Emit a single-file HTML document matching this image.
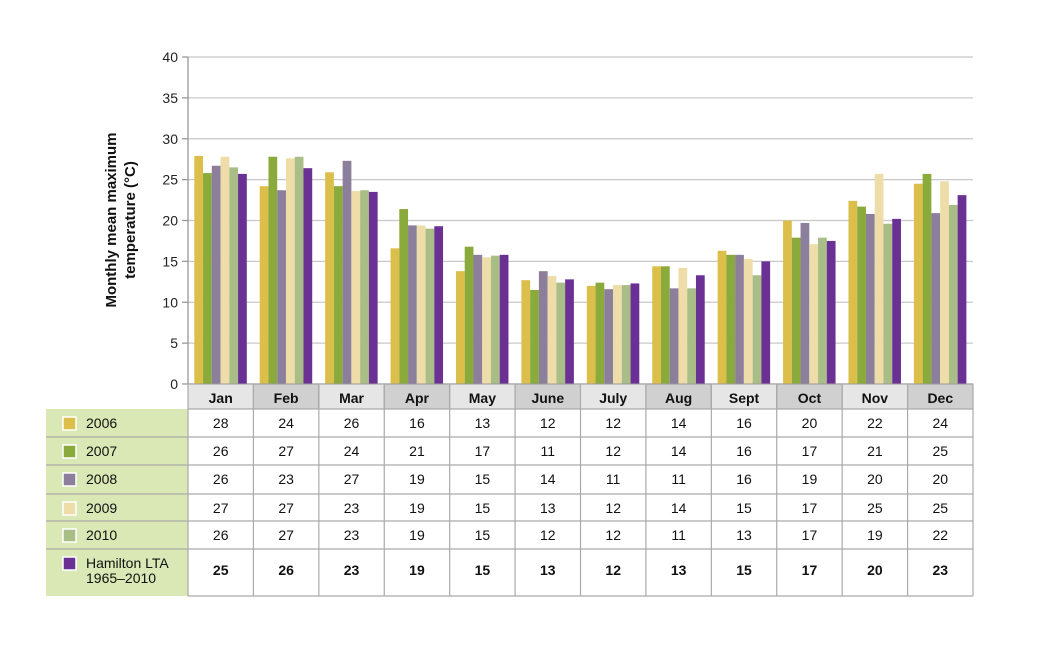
<!DOCTYPE html>
<html><head><meta charset="utf-8"><style>
body{margin:0;background:#fff;font-family:"Liberation Sans",Arial,sans-serif}
svg text{font-family:"Liberation Sans",Arial,sans-serif}
</style></head><body>
<svg id="c" width="1040" height="646" viewBox="0 0 1040 646"></svg>
<script>
const months=["Jan","Feb","Mar","Apr","May","June","July","Aug","Sept","Oct","Nov","Dec"];
const seriesNames=["2006","2007","2008","2009","2010","Hamilton LTA 1965–2010"];
const s2006=[27.9,24.2,25.9,16.6,13.8,12.7,12.0,14.4,16.3,20.0,22.4,24.5];
const s2007=[25.8,27.8,24.2,21.4,16.8,11.5,12.4,14.4,15.8,17.9,21.7,25.7];
const s2008=[26.7,23.7,27.3,19.4,15.8,13.8,11.6,11.7,15.8,19.7,20.8,20.9];
const s2009=[27.8,27.6,23.6,19.4,15.5,13.2,12.1,14.2,15.3,17.1,25.7,24.8];
const s2010=[26.5,27.8,23.7,19.0,15.7,12.4,12.1,11.7,13.3,17.9,19.6,21.9];
const sLTA=[25.7,26.4,23.5,19.3,15.8,12.8,12.3,13.3,15.0,17.5,20.2,23.1];
const t2006=["28","24","26","16","13","12","12","14","16","20","22","24"];
const t2007=["26","27","24","21","17","11","12","14","16","17","21","25"];
const t2008=["26","23","27","19","15","14","11","11","16","19","20","20"];
const t2009=["27","27","23","19","15","13","12","14","15","17","25","25"];
const t2010=["26","27","23","19","15","12","12","11","13","17","19","22"];
const tLTA=["25","26","23","19","15","13","12","13","15","17","20","23"];
const yTicks=[0,5,10,15,20,25,30,35,40];
const series=[s2006,s2007,s2008,s2009,s2010,sLTA];
const tables=[t2006,t2007,t2008,t2009,t2010,tLTA];
const colors=["#dcbf4a","#8aaa3c","#8c7f9c","#eedda8","#a9bd86","#6a3093"];
const NS="http://www.w3.org/2000/svg";
const svg=document.getElementById('c');
const X0=188,X1=973,Y0=384,Y1=57,YMAX=40;
const colW=(X1-X0)/months.length;
const y=v=>Y0-(v/YMAX)*(Y0-Y1);
const colX=i=>X0+i*colW;
function mk(tag,attrs,parent){const e=document.createElementNS(NS,tag);for(const k in attrs)e.setAttribute(k,attrs[k]);(parent||svg).appendChild(e);return e;}
// grid & y ticks
yTicks.forEach(t=>{
  const g=mk('line',{x1:X0,x2:X1,y1:y(t),y2:y(t),stroke:t===0?'#999':'#c8c8c8','stroke-width':1.3});
  
  
  const tk=mk('line',{x1:X0-6,x2:X0,y1:y(t),y2:y(t),stroke:'#999','stroke-width':1.3});
  
  
  const tx=mk('text',{x:X0-10,y:y(t)+5,'text-anchor':'end','font-size':14,fill:'#222'});
  tx.textContent=t;
  
  
});
const ax=mk('line',{x1:X0,x2:X0,y1:Y1,y2:Y0,stroke:'#999','stroke-width':1.3});


const yt=mk('text',{transform:'translate(120,220) rotate(-90)','text-anchor':'middle','font-size':15,'font-weight':'bold',fill:'#111'});


const ts1=mk('tspan',{x:0,dy:-4},yt);ts1.textContent='Monthly mean maximum';
const ts2=mk('tspan',{x:0,dy:19},yt);ts2.textContent='temperature (°C)';
// bars
const bw=8.75,off=6.3;
series.forEach((s,si)=>{
  s.forEach((v,i)=>{
    const r=mk('rect',{x:colX(i)+off+si*bw,y:y(v),width:bw,height:Y0-y(v),fill:colors[si]});
    
    
  });
});
// table
const rowY=[409,437,465,494,521,549,596];
months.forEach((m,i)=>{
  const h=mk('rect',{x:colX(i),y:Y0,width:colW,height:rowY[0]-Y0,fill:i%2?'#d0d0d0':'#e6e6e6',stroke:'#999','stroke-width':1});
  
  
  const t=mk('text',{x:colX(i)+colW/2,y:Y0+19,'text-anchor':'middle','font-size':14,'font-weight':'bold',fill:'#111'});
  t.textContent=m;
  
  
});
const lg=mk('rect',{x:46,y:rowY[0],width:X0-46,height:rowY[6]-rowY[0],fill:'#d9e8b5'});


for(let r=0;r<=6;r++){
  const l=mk('line',{x1:r===0||r===6?X0:46,x2:X1,y1:rowY[r],y2:rowY[r],stroke:'#aaa','stroke-width':1.2});
  if(r>0&&r<6){l.setAttribute('x1',46);}
  
  
}
for(let i=0;i<=12;i++){
  const l=mk('line',{x1:colX(i),x2:colX(i),y1:Y0,y2:rowY[6],stroke:'#aaa','stroke-width':1.2});
  
  
}
tables.forEach((tr,si)=>{
  const top=rowY[si],bot=rowY[si+1];
  const sw=mk('rect',{x:63,y:top+8,width:13,height:13,fill:colors[si],stroke:'#fff','stroke-width':1.5});
  
  
  const lt=mk('text',{x:86,y:top+19,'font-size':14,fill:'#111'});
  
  
  if(si===5){
    const a=mk('tspan',{x:86,dy:0},lt);a.textContent='Hamilton LTA';
    const b=mk('tspan',{x:86,dy:15},lt);b.textContent='1965–2010';
  } else lt.textContent=seriesNames[si];
  tr.forEach((v,i)=>{
    const t=mk('text',{x:colX(i)+colW/2,y:si===5?top+26:top+19,'text-anchor':'middle','font-size':14,'font-weight':si===5?'bold':'normal',fill:'#111'});
    t.textContent=v;
    
    
  });
});
</script>
</body></html>
